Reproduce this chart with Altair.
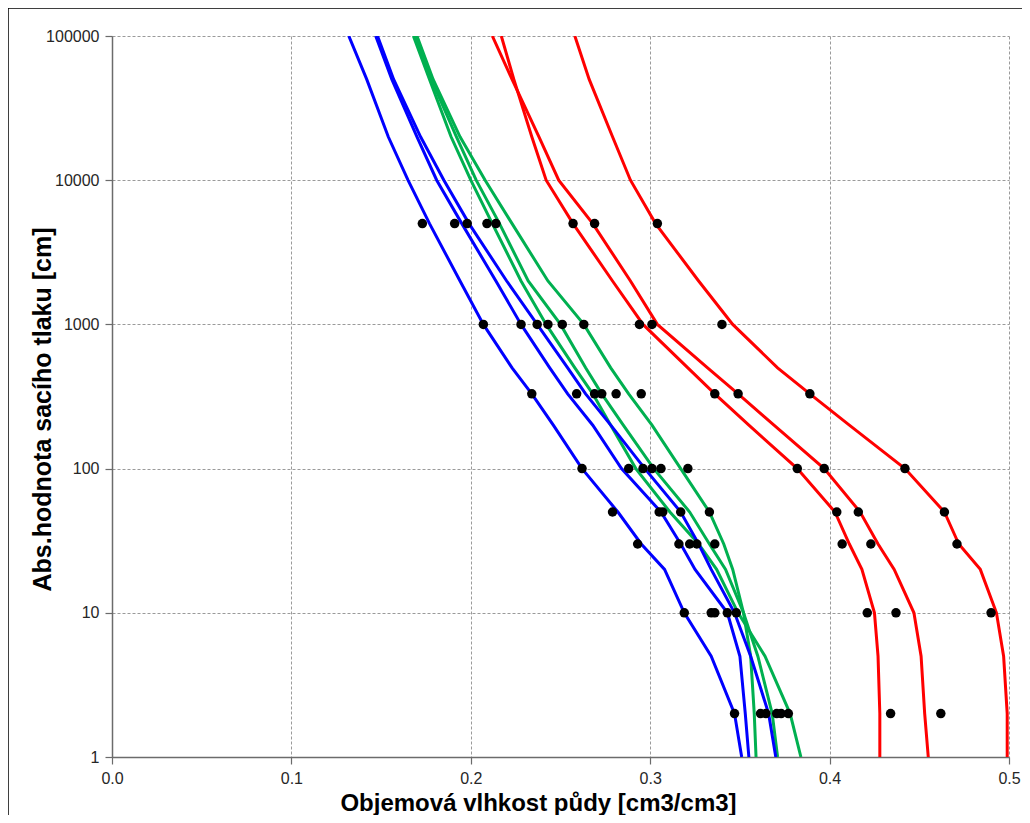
import altair as alt
import pandas as pd

# suction pressure levels (cm) at which the fitted retention curves are drawn
H = [1, 2, 5, 10, 20, 30, 50, 100, 200, 330, 500, 1000, 2000, 5000, 10000, 20000, 50000, 100000]

# fitted curves: volumetric water content at each level of H
BLUE_1 = [0.351, 0.347, 0.334, 0.319, 0.308, 0.295, 0.282, 0.262, 0.246, 0.234, 0.223, 0.207, 0.194, 0.177, 0.165, 0.154, 0.142, 0.132]
BLUE_2 = [0.355, 0.353, 0.350, 0.343, 0.325, 0.317, 0.306, 0.284, 0.268, 0.254, 0.244, 0.228, 0.214, 0.195, 0.181, 0.170, 0.156, 0.147]
BLUE_3 = [0.370, 0.366, 0.356, 0.347, 0.334, 0.327, 0.317, 0.297, 0.278, 0.264, 0.254, 0.237, 0.220, 0.199, 0.185, 0.172, 0.157, 0.148]
GREEN_1 = [0.384, 0.378, 0.364, 0.349, 0.337, 0.327, 0.311, 0.292, 0.278, 0.268, 0.258, 0.242, 0.228, 0.212, 0.200, 0.189, 0.177, 0.168]
GREEN_2 = [0.371, 0.368, 0.360, 0.352, 0.342, 0.333, 0.322, 0.302, 0.285, 0.273, 0.264, 0.250, 0.232, 0.216, 0.203, 0.192, 0.178, 0.169]
GREEN_3 = [0.359, 0.358, 0.356, 0.352, 0.346, 0.341, 0.333, 0.317, 0.301, 0.288, 0.278, 0.263, 0.243, 0.223, 0.208, 0.194, 0.179, 0.170]
RED_1 = [0.428, 0.428, 0.427, 0.425, 0.418, 0.411, 0.403, 0.382, 0.355, 0.336, 0.321, 0.296, 0.279, 0.257, 0.242, 0.234, 0.224, 0.217]
RED_2 = [0.455, 0.453, 0.451, 0.447, 0.436, 0.427, 0.417, 0.397, 0.369, 0.349, 0.332, 0.304, 0.289, 0.268, 0.249, 0.238, 0.223, 0.212]
RED_3 = [0.499, 0.499, 0.497, 0.493, 0.484, 0.472, 0.464, 0.442, 0.411, 0.389, 0.371, 0.346, 0.327, 0.303, 0.289, 0.279, 0.266, 0.258]

CURVE_NAMES = ["R1", "R2", "R3", "G1", "G2", "G3", "B1", "B2", "B3"]
CURVE_VALUES = [RED_1, RED_2, RED_3, GREEN_1, GREEN_2, GREEN_3, BLUE_1, BLUE_2, BLUE_3]
CURVE_COLORS = ["#FF0000", "#FF0000", "#FF0000", "#00B050", "#00B050", "#00B050",
                "#0000FF", "#0000FF", "#0000FF"]

# measured points
DOT_H = [5000, 1000, 330, 100, 50, 30, 10, 2]
DOT_THETA = [
    [0.173, 0.191, 0.198, 0.209, 0.214, 0.257, 0.269, 0.304],
    [0.207, 0.228, 0.237, 0.243, 0.251, 0.263, 0.294, 0.301, 0.340],
    [0.234, 0.259, 0.269, 0.273, 0.281, 0.295, 0.336, 0.349, 0.389],
    [0.262, 0.288, 0.296, 0.301, 0.306, 0.321, 0.382, 0.397, 0.442],
    [0.279, 0.305, 0.307, 0.317, 0.333, 0.404, 0.416, 0.464],
    [0.293, 0.316, 0.322, 0.326, 0.336, 0.407, 0.423, 0.471],
    [0.319, 0.334, 0.336, 0.343, 0.348, 0.421, 0.437, 0.490],
    [0.347, 0.3615, 0.3645, 0.3705, 0.373, 0.377, 0.434, 0.462],
]

X_TICKS = [0.0, 0.1, 0.2, 0.3, 0.4, 0.5]
Y_TICKS = [1, 10, 100, 1000, 10000, 100000]
X_TITLE = "Objemová vlhkost půdy [cm3/cm3]"
Y_TITLE = "Abs.hodnota sacího tlaku [cm]"

curve_rows = []
for name, vals in zip(CURVE_NAMES, CURVE_VALUES):
    for i, (h, t) in enumerate(zip(H, vals)):
        curve_rows.append({"curve": name, "h": h, "theta": t, "ord": i})
curves_df = pd.DataFrame(curve_rows)

dot_rows = []
for h, thetas in zip(DOT_H, DOT_THETA):
    for t in thetas:
        dot_rows.append({"h": h, "theta": t})
dots_df = pd.DataFrame(dot_rows)

FONT = "Liberation Sans"
AXIS_COLOR = "#6b6b6b"

x_enc = alt.X(
    "theta:Q",
    scale=alt.Scale(domain=[0, 0.5], nice=False, zero=False),
    axis=alt.Axis(
        values=X_TICKS, format=".1f", title=X_TITLE,
        titleX=426, titleY=53, titleAnchor="middle", titleAlign="center",
        titleBaseline="alphabetic", titleFontSize=24,
    ),
)
y_enc = alt.Y(
    "h:Q",
    scale=alt.Scale(type="log", domain=[1, 100000], nice=False),
    axis=alt.Axis(
        values=Y_TICKS, format="d", title=Y_TITLE,
        titleX=-62, titleY=373, titleAngle=270, titleAlign="center",
        titleBaseline="alphabetic", titleFontSize=25,
    ),
)

lines = alt.Chart(curves_df).mark_line(strokeWidth=3, clip=True).encode(
    x=x_enc,
    y=y_enc,
    color=alt.Color("curve:N", scale=alt.Scale(domain=CURVE_NAMES, range=CURVE_COLORS), legend=None),
    detail="curve:N",
    order=alt.Order("ord:Q"),
)

points = alt.Chart(dots_df).mark_circle(size=90, color="black", opacity=1).encode(
    x="theta:Q",
    y="h:Q",
)

frame = alt.Chart(pd.DataFrame({"k": [0]})).mark_rect(
    fill=None, stroke="black", strokeWidth=1.5
).encode(
    x=alt.value(-104), x2=alt.value(940), y=alt.value(-28), y2=alt.value(820)
)

chart = alt.layer(lines, points, frame).properties(
    width=897, height=721,
    autosize=alt.AutoSizeParams(type="none"),
    padding={"left": 104, "top": 28, "right": 13, "bottom": 58},
).configure_view(
    stroke=None
).configure_axis(
    labelFont=FONT, titleFont=FONT,
    labelFontSize=16, labelColor="#262626",
    labelFlush=False,
    titleFontWeight="bold", titleColor="#000000",
    domainColor=AXIS_COLOR, domainWidth=1.5,
    tickColor=AXIS_COLOR, tickSize=7, tickWidth=1.2,
    labelPadding=6,
    grid=True, gridColor="#9a9a9a", gridDash=[3, 2], gridWidth=1,
)

chart.save("out.html", embed_options={"renderer": "svg", "actions": False})
